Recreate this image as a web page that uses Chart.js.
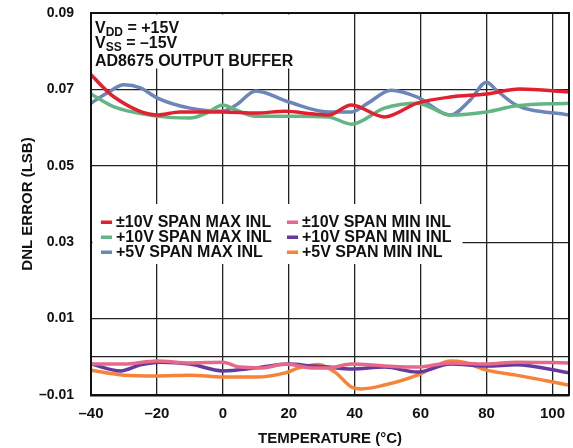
<!DOCTYPE html>
<html>
<head>
<meta charset="utf-8">
<script src="https://cdn.jsdelivr.net/npm/chart.js@4"></script>
<style>
  html, body { margin: 0; padding: 0; background: #fff; }
  #wrap { width: 573px; height: 448px; }
</style>
</head>
<body>
<div id="wrap"><canvas id="canvas" width="573" height="448"></canvas></div>
<script>
// temperatures (°C) and DNL error (LSB)
const redMaxT = [-40, -33, -20, -13, 0, 10, 19, 27, 32, 39, 49, 59, 69, 80, 90, 105];
const redMax = [0.0738, 0.068, 0.0633, 0.0641, 0.0641, 0.0638, 0.0643, 0.0636, 0.0633, 0.0659, 0.0628, 0.0664, 0.068, 0.0688, 0.0701, 0.0693];

const greenMaxT = [-40, -33, -20, -10, -5, 0, 4, 10, 22, 32, 39, 49, 59, 69, 80, 89, 105];
const greenMax = [0.0688, 0.0654, 0.063, 0.0625, 0.0638, 0.0659, 0.0646, 0.063, 0.063, 0.0628, 0.0609, 0.0651, 0.0664, 0.0633, 0.0641, 0.0657, 0.0664];

const blueMaxT = [-40, -35, -30, -25, -20, -10, 0, 4, 10, 20, 32, 39, 44, 51, 59, 69, 75, 80, 83, 89, 105];
const blueMax = [0.0664, 0.0691, 0.0712, 0.0704, 0.0678, 0.0651, 0.0643, 0.0659, 0.0696, 0.0667, 0.0641, 0.0641, 0.0664, 0.0698, 0.068, 0.0633, 0.0672, 0.0719, 0.0698, 0.0659, 0.0633];

const pinkMinT = [-40, -30, -20, -10, 0, 5, 12, 19, 27, 32, 39, 49, 59, 69, 80, 89, 105];
const pinkMin = [-0.0019, -0.0019, -0.0011, -0.0016, -0.0014, -0.0027, -0.0029, -0.0019, -0.0029, -0.0029, -0.0019, -0.0024, -0.0027, -0.0016, -0.0019, -0.0014, -0.0016];

const purpleMinT = [-40, -31, -25, -19, -10, 0, 10, 20, 27, 32, 39, 49, 59, 69, 80, 89, 105];
const purpleMin = [-0.0019, -0.0037, -0.0021, -0.0014, -0.0019, -0.0037, -0.0029, -0.0019, -0.0024, -0.0027, -0.0032, -0.0027, -0.004, -0.0019, -0.0024, -0.0021, -0.0042];

const orangeMinT = [-40, -30, -20, -10, 0, 10, 19, 23, 29, 34, 39, 42, 49, 59, 64, 69, 73, 80, 89, 105];
const orangeMin = [-0.0035, -0.0048, -0.005, -0.0048, -0.0053, -0.0053, -0.0042, -0.0029, -0.002, -0.004, -0.0079, -0.0084, -0.0074, -0.0048, -0.0027, -0.0011, -0.0014, -0.0035, -0.0048, -0.0074];

const seriesNames = ['±10V SPAN MAX INL', '+10V SPAN MAX INL', '+5V SPAN MAX INL',
                     '±10V SPAN MIN INL', '+10V SPAN MIN INL', '+5V SPAN MIN INL'];
const seriesColors = ['#e2202f', '#63b584', '#6b86b8', '#e8688a', '#633a9e', '#f5833a'];

const xTicks = [-40, -20, 0, 20, 40, 60, 80, 100];
const yTicks = [-0.01, 0, 0.01, 0.03, 0.05, 0.07, 0.09];

const FONT = "'Liberation Sans', Arial, sans-serif";

const pts = (t, v) => t.map((x, i) => ({ x: x, y: v[i] }));
const allSeries = [
    pts(redMaxT, redMax), pts(greenMaxT, greenMax), pts(blueMaxT, blueMax),
    pts(pinkMinT, pinkMin), pts(purpleMinT, purpleMin), pts(orangeMinT, orangeMin)
];

// white boxes, annotation text and legend drawn inside the plot
const boxes = {
    id: 'boxes',
    beforeDatasetsDraw(chart) {
        const ctx = chart.ctx;
        const a = chart.chartArea;
        ctx.save();
        ctx.fillStyle = '#fff';
        ctx.fillRect(a.left + 1.5, a.top + 1.5, 205, 54);
        ctx.fillRect(a.left + 1.5, 204, 370, 60);

        ctx.fillStyle = '#111';
        ctx.textBaseline = 'alphabetic';
        ctx.textAlign = 'left';
        const big = 'bold 16px ' + FONT;
        const small = 'bold 12px ' + FONT;
        const sub = (y, s, rest) => {
            let x = 95;
            ctx.font = big; ctx.fillText('V', x, y); x += ctx.measureText('V').width;
            ctx.font = small; ctx.fillText(s, x, y + 3); x += ctx.measureText(s).width;
            ctx.font = big; ctx.fillText(rest, x, y);
        };
        sub(33, 'DD', ' = +15V');
        sub(48, 'SS', ' = –15V');
        ctx.font = big;
        ctx.fillText('AD8675 OUTPUT BUFFER', 95, 66);

        // legend
        ctx.font = big;
        ctx.textBaseline = 'middle';
        chart.data.datasets.forEach((ds, i) => {
            const col = Math.floor(i / 3), row = i % 3;
            const x = col === 0 ? 101 : 287;
            const y = 222 + row * 15;
            ctx.fillStyle = ds.borderColor;
            ctx.fillRect(x, y - 1.5, 11, 3.5);
            ctx.fillStyle = '#111';
            ctx.fillText(ds.label, x + 15, y + 1);
        });
        ctx.restore();
    },
    afterDraw(chart) {
        const ctx = chart.ctx;
        const a = chart.chartArea;
        ctx.save();
        ctx.strokeStyle = '#111';
        ctx.lineWidth = 2;
        ctx.strokeRect(a.left, a.top, a.right - a.left, a.bottom - a.top);
        ctx.restore();
    }
};

new Chart(document.getElementById('canvas'), {
    type: 'line',
    data: {
        datasets: allSeries.map((d, i) => ({
            label: seriesNames[i],
            data: d,
            borderColor: seriesColors[i],
            backgroundColor: seriesColors[i],
            borderWidth: 3.5,
            pointRadius: 0,
            cubicInterpolationMode: 'monotone',
            fill: false
        }))
    },
    options: {
        responsive: false,
        animation: false,
        layout: { padding: { top: 13, right: 4, left: 19, bottom: 0 } },
        plugins: {
            legend: { display: false },
            tooltip: { enabled: false }
        },
        scales: {
            x: {
                type: 'linear',
                min: -40,
                max: 105,
                afterBuildTicks: (s) => { s.ticks = xTicks.map(v => ({ value: v })); },
                afterFit: (s) => { s.height = 53; s.paddingLeft = 0; s.paddingRight = 0; },
                grid: { color: '#222', lineWidth: 1.3, drawTicks: false },
                border: { color: '#111', width: 2.5 },
                ticks: {
                    padding: 10,
                    color: '#111',
                    font: { family: FONT, size: 15, weight: 'bold' },
                    maxRotation: 0,
                    callback: (v) => String(v).replace('-', '–')
                },
                title: {
                    display: true,
                    text: 'TEMPERATURE (°C)',
                    color: '#111',
                    font: { family: FONT, size: 15, weight: 'bold' },
                    padding: { top: 2, bottom: 0 }
                }
            },
            y: {
                min: -0.01,
                max: 0.09,
                afterBuildTicks: (s) => { s.ticks = yTicks.map(v => ({ value: v })); },
                afterFit: (s) => { s.width = 72; s.paddingTop = 0; s.paddingBottom = 0; },
                grid: { color: '#222', lineWidth: 1.3, drawTicks: false },
                border: { color: '#111', width: 2 },
                ticks: {
                    padding: 17,
                    color: '#111',
                    font: { family: FONT, size: 14, weight: 'bold' },
                    callback: (v) => v === 0 ? '' : v.toFixed(2).replace('-', '–')
                },
                title: {
                    display: true,
                    text: 'DNL ERROR (LSB)',
                    color: '#111',
                    font: { family: FONT, size: 15, weight: 'bold' },
                    padding: { top: 0, bottom: 0 }
                }
            }
        }
    },
    plugins: [boxes]
});
</script>
</body>
</html>
